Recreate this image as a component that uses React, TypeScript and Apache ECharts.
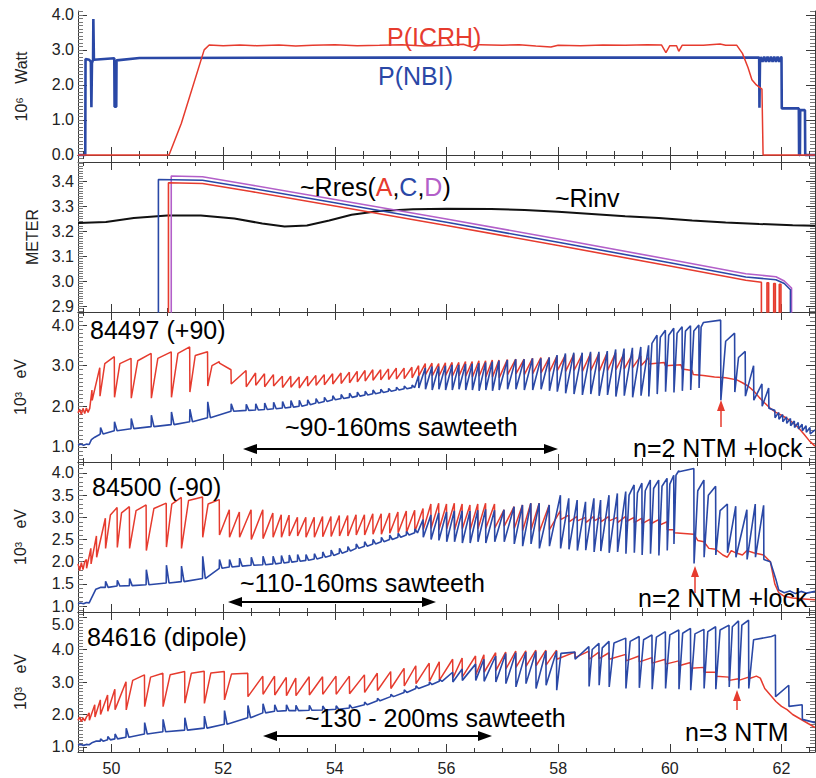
import React, { useEffect, useRef } from 'react';
import * as echarts from 'echarts';

type P = [number, number];
type T3 = [number, number, number];

// ---------------- tick labels ----------------
const xTickLabels = [50, 52, 54, 56, 58, 60, 62];
const p1TickLabels = [0, 1, 2, 3, 4];
const p2TickLabels = [2.9, 3.0, 3.1, 3.2, 3.3, 3.4];
const p3TickLabels = [1, 2, 3, 4];
const p4TickLabels = [1, 1.5, 2, 2.5, 3, 3.5, 4];
const p5TickLabels = [1, 2, 3, 4];
const p5TopLabel = [5];

// ---------------- panel 1 : powers ----------------
const pNbi: P[] = [[49.4,0],[49.53,0],[49.535,2.74],[49.60,2.72],[49.63,2.66],[49.64,1.36],[49.65,2.62],[49.67,2.72],[49.675,3.88],[49.685,2.72],[50.05,2.76],[50.055,1.38],[50.085,1.38],[50.09,2.70],[50.5,2.77],[55.0,2.78],[61.55,2.78],[61.60,2.78],[61.605,1.35],[61.615,2.68],[61.63,2.80],[61.66,2.66],[61.69,2.81],[61.72,2.66],[61.75,2.81],[61.78,2.66],[61.81,2.81],[61.84,2.66],[61.87,2.81],[61.90,2.66],[61.93,2.81],[61.96,2.66],[61.99,2.80],[62.0,2.78],[62.005,1.33],[62.31,1.33],[62.315,0],[62.33,0],[62.335,1.28],[62.42,1.28],[62.425,0],[62.6,0]];
const pIcrh: P[] = [[49.4,0],[51.03,0],[51.25,0.9],[51.66,3.0],[51.75,3.14],[52.0,3.12],[52.3,3.14],[52.6,3.12],[53.0,3.14],[53.3,3.11],[53.6,3.13],[54.0,3.15],[54.4,3.12],[54.8,3.13],[55.2,3.15],[55.6,3.11],[56.0,3.13],[56.3,3.16],[56.45,3.08],[56.6,3.15],[57.0,3.13],[57.3,3.15],[57.6,3.11],[57.87,3.08],[58.0,3.13],[58.4,3.12],[58.8,3.14],[59.2,3.13],[59.6,3.15],[59.85,3.14],[59.93,2.92],[60.0,3.12],[60.12,3.12],[60.16,2.96],[60.22,3.13],[60.6,3.13],[60.9,3.17],[61.0,3.13],[61.2,3.13],[61.3,2.9],[61.4,2.5],[61.47,2.15],[61.55,2.0],[61.65,1.88],[61.67,0],[62.6,0]];

// ---------------- panel 2 : radii ----------------
const rresA: P[] = [[51.02,2.85],[51.02,3.393],[51.63,3.390],[52.5,3.358],[54.0,3.300],[56.0,3.222],[58.0,3.142],[60.0,3.060],[61.36,3.003],[61.64,2.995],[61.64,2.85],[61.74,2.85],[61.74,2.993],[61.77,2.993],[61.77,2.85],[61.86,2.85],[61.86,2.99],[61.89,2.99],[61.89,2.85],[61.96,2.85],[61.96,2.987],[61.99,2.987],[61.99,2.85]];
const rresC: P[] = [[50.84,2.85],[50.84,3.406],[51.63,3.403],[52.5,3.371],[54.0,3.313],[56.0,3.235],[58.0,3.155],[60.0,3.073],[61.36,3.016],[61.9,3.005],[62.05,2.99],[62.16,2.965],[62.16,2.85]];
const rresD: P[] = [[51.07,2.85],[51.07,3.420],[51.63,3.417],[52.5,3.384],[54.0,3.326],[56.0,3.248],[58.0,3.168],[60.0,3.086],[61.36,3.029],[61.9,3.017],[62.05,3.0],[62.18,2.972],[62.18,2.85]];
const rinv: P[] = [[49.4,3.232],[49.9,3.236],[50.4,3.252],[51.0,3.262],[51.6,3.262],[52.2,3.250],[52.7,3.230],[53.1,3.218],[53.5,3.222],[53.9,3.242],[54.3,3.265],[54.8,3.280],[55.4,3.287],[56.0,3.289],[56.8,3.288],[57.4,3.284],[58.0,3.277],[58.6,3.268],[59.2,3.259],[59.8,3.252],[60.4,3.242],[61.0,3.234],[61.6,3.228],[62.2,3.223],[62.6,3.221]];

// ---------------- panel 3 : 84497 ----------------
// teeth: [time, value before crash, value after crash]; knees: bend points of the ramps
const p3RedPre: P[] = [[49.40,1.84],[49.43,1.93],[49.46,1.80],[49.49,1.95],[49.52,1.82],[49.55,1.96],[49.58,1.85],[49.61,1.95]];
const p3RedTeeth: T3[] = [[49.65,2.40,2.15],[49.79,2.95,2.25],[50.05,3.22,2.22],[50.35,3.18,2.20],[50.71,3.30,2.20],[51.07,3.34,2.22],[51.40,3.46,2.35],[51.72,3.34,2.50],[51.93,3.10,3.06],[52.14,2.90,2.55],[52.41,2.88,2.48],[52.58,2.82,2.52],[52.74,2.80,2.48],[52.90,2.78,2.50],[53.06,2.74,2.46],[53.21,2.74,2.47],[53.36,2.72,2.45],[53.51,2.74,2.50],[53.66,2.76,2.52],[53.81,2.78,2.53],[53.96,2.80,2.55],[54.11,2.82,2.56],[54.26,2.84,2.58],[54.40,2.86,2.60],[54.54,2.88,2.62],[54.68,2.90,2.64],[54.82,2.90,2.65],[54.96,2.92,2.66],[55.10,2.94,2.67],[55.24,2.94,2.68],[55.38,2.96,2.70],[55.50,3.00,2.75],[55.62,3.05,2.78],[55.74,3.06,2.75],[55.86,3.05,2.74],[55.98,3.07,2.76],[56.10,3.08,2.74],[56.22,3.08,2.75],[56.34,3.10,2.74],[56.46,3.10,2.72],[56.58,3.12,2.74],[56.70,3.12,2.72],[56.82,3.14,2.72],[56.94,3.14,2.70],[57.09,3.15,2.78],[57.24,3.16,2.80],[57.39,3.16,2.78],[57.54,3.18,2.80],[57.69,3.20,2.82],[57.84,3.20,2.85],[57.98,3.24,2.88],[58.13,3.26,2.86],[58.28,3.28,2.88],[58.43,3.28,2.86],[58.58,3.30,2.88],[58.73,3.30,2.86],[58.88,3.32,2.88],[59.03,3.32,2.90],[59.18,3.30,2.92],[59.33,3.28,2.95],[59.48,3.24,3.00],[59.62,3.20,3.04]];
const p3RedKnees: P[] = [[49.88,3.05],[50.15,3.05],[50.47,3.12],[50.83,3.18],[51.19,3.30],[51.50,3.25],[51.80,3.00]];
const p3RedPost: P[] = [[59.9,3.08],[59.92,3.0],[60.2,3.02],[60.22,2.92],[60.4,2.88],[60.42,2.78],[60.6,2.76],[60.8,2.72],[61.0,2.70],[61.2,2.65],[61.3,2.58],[61.4,2.50],[61.5,2.38],[61.6,2.22],[61.7,2.08],[61.8,1.95],[61.9,1.85],[62.0,1.78],[62.1,1.70],[62.2,1.60],[62.3,1.48],[62.4,1.32],[62.5,1.15],[62.6,1.02]];
const p3BluePre: P[] = [[49.40,1.05],[49.45,1.07],[49.50,1.04],[49.55,1.07],[49.60,1.06],[49.64,1.18],[49.70,1.24],[49.78,1.30]];
const p3BlueTeeth: T3[] = [[49.80,1.32,1.48],[50.05,1.40,1.62],[50.35,1.45,1.70],[50.71,1.50,1.78],[51.07,1.55,1.86],[51.40,1.62,1.93],[51.72,1.72,2.11],[52.14,1.88,2.06],[52.41,1.90,2.05],[52.58,1.91,2.06],[52.74,1.92,2.08],[52.90,1.94,2.10],[53.06,1.96,2.12],[53.21,1.98,2.14],[53.36,2.00,2.15],[53.51,2.04,2.16],[53.66,2.08,2.19],[53.81,2.12,2.22],[53.96,2.16,2.26],[54.11,2.19,2.29],[54.26,2.22,2.32],[54.40,2.25,2.35],[54.54,2.28,2.37],[54.68,2.31,2.40],[54.82,2.34,2.42],[54.96,2.37,2.44],[55.10,2.40,2.47],[55.24,2.43,2.50],[55.38,2.46,2.52],[55.50,2.75,2.45],[55.62,2.95,2.42],[55.74,2.98,2.40],[55.86,2.98,2.42],[55.98,3.00,2.40],[56.10,3.02,2.40],[56.22,3.02,2.42],[56.34,3.04,2.40],[56.46,3.05,2.40],[56.58,3.06,2.38],[56.70,3.08,2.40],[56.82,3.10,2.38],[56.94,3.12,2.40],[57.09,3.14,2.42],[57.24,3.16,2.42],[57.39,3.16,2.40],[57.54,3.18,2.40],[57.69,3.18,2.42],[57.84,3.20,2.38],[57.98,3.26,2.36],[58.13,3.30,2.32],[58.28,3.32,2.30],[58.43,3.32,2.28],[58.58,3.34,2.30],[58.73,3.34,2.26],[58.88,3.36,2.28],[59.03,3.40,2.24],[59.18,3.42,2.26],[59.33,3.44,2.22],[59.48,3.46,2.26],[59.62,3.50,2.24],[59.77,3.75,2.30],[59.92,3.87,2.36],[60.07,3.92,2.34],[60.22,3.96,2.38],[60.37,3.98,2.40],[60.52,4.00,2.45],[60.60,4.06,4.05],[60.91,4.12,2.15],[61.16,3.80,2.35],[61.35,3.35,2.25],[61.50,3.00,2.15],[61.65,2.55,2.00],[61.77,2.45,1.95],[61.88,1.90,1.72],[61.95,1.85,1.68],[62.02,1.80,1.62],[62.09,1.74,1.58],[62.16,1.70,1.52],[62.23,1.64,1.48],[62.30,1.60,1.44],[62.37,1.56,1.40],[62.44,1.52,1.36],[62.51,1.48,1.32]];
const p3BlueKnees: P[] = [[59.68,3.55],[59.83,3.70],[59.98,3.75],[60.13,3.80],[60.28,3.85],[60.43,3.85],[60.56,3.95],[61.00,3.60],[61.23,3.20]];
const p3BluePost: P[] = [[62.6,1.42]];

// ---------------- panel 4 : 84500 ----------------
const p4RedPre: P[] = [[49.40,1.95],[49.43,1.80],[49.46,1.98],[49.49,1.82],[49.52,2.0]];
const p4RedTeeth: T3[] = [[49.55,2.05,1.85],[49.63,2.30,1.95],[49.73,2.58,2.10],[49.89,2.98,2.30],[50.10,3.22,2.32],[50.32,3.24,2.30],[50.62,3.28,2.25],[50.98,3.32,2.33],[51.25,3.45,2.30],[51.63,3.46,2.55],[51.93,3.40,2.60],[52.11,3.17,2.55],[52.29,3.12,2.55],[52.50,3.17,2.50],[52.71,3.17,2.52],[52.89,3.10,2.55],[53.04,3.06,2.55],[53.18,3.05,2.58],[53.33,3.00,2.58],[53.48,3.00,2.55],[53.63,3.00,2.55],[53.78,3.02,2.56],[53.93,3.02,2.57],[54.08,3.04,2.58],[54.23,3.04,2.58],[54.38,3.06,2.60],[54.53,3.06,2.60],[54.68,3.08,2.62],[54.83,3.08,2.62],[54.98,3.10,2.64],[55.13,3.12,2.65],[55.28,3.14,2.66],[55.43,3.16,2.68],[55.58,3.20,2.72],[55.72,3.30,2.75],[55.86,3.32,2.72],[56.00,3.30,2.74],[56.14,3.32,2.72],[56.28,3.30,2.74],[56.42,3.28,2.72],[56.56,3.30,2.74],[56.70,3.32,2.75],[56.86,3.30,2.76],[57.03,3.17,2.80],[57.21,3.24,2.75],[57.36,3.28,2.70],[57.51,3.32,2.72],[57.66,3.32,2.68],[57.84,3.28,2.72],[58.04,3.15,2.95],[58.19,3.05,2.90],[58.34,3.02,2.92],[58.49,3.00,2.88],[58.64,3.02,2.92],[58.76,3.00,2.90],[58.91,3.02,2.92],[59.06,3.00,2.88],[59.21,3.02,2.90],[59.36,3.00,2.88],[59.50,2.98,2.86],[59.65,2.96,2.85],[59.80,2.95,2.82],[59.95,2.90,2.72],[60.07,2.72,2.65]];
const p4RedKnees: P[] = [[49.98,3.05],[50.18,3.10],[50.44,3.15],[50.76,3.20],[51.08,3.30],[51.38,3.38],[51.73,3.30]];
const p4RedPost: P[] = [[60.43,2.62],[60.50,2.48],[60.61,2.45],[60.7,2.30],[60.82,2.28],[60.95,2.15],[61.03,2.10],[61.10,2.25],[61.18,2.20],[61.3,2.15],[61.38,2.25],[61.5,2.20],[61.68,2.15],[61.80,2.0],[61.88,1.5],[61.95,1.30],[62.05,1.22],[62.2,1.18],[62.4,1.16],[62.6,1.14]];
const p4BluePre: P[] = [[49.40,1.05],[49.45,1.07],[49.50,1.05],[49.55,1.08],[49.60,1.07],[49.65,1.20],[49.72,1.38],[49.80,1.42]];
const p4BlueTeeth: T3[] = [[49.89,1.42,1.56],[50.10,1.45,1.58],[50.32,1.46,1.62],[50.62,1.48,1.82],[50.98,1.52,1.92],[51.25,1.55,1.90],[51.63,1.62,2.12],[51.93,1.85,2.05],[52.11,1.88,2.05],[52.29,1.90,2.08],[52.50,1.92,2.10],[52.71,1.93,2.12],[52.89,1.95,2.12],[53.04,1.97,2.14],[53.18,1.99,2.15],[53.33,2.01,2.16],[53.48,2.03,2.16],[53.63,2.06,2.18],[53.78,2.10,2.22],[53.93,2.14,2.26],[54.08,2.19,2.30],[54.23,2.24,2.34],[54.38,2.30,2.40],[54.53,2.35,2.45],[54.68,2.40,2.50],[54.83,2.45,2.55],[54.98,2.50,2.60],[55.13,2.55,2.64],[55.28,2.60,2.68],[55.43,2.65,2.74],[55.58,2.95,2.55],[55.72,3.05,2.50],[55.86,3.10,2.48],[56.00,3.12,2.45],[56.14,3.15,2.45],[56.28,3.15,2.42],[56.42,3.14,2.42],[56.56,3.16,2.45],[56.70,3.18,2.42],[56.86,3.16,2.45],[57.03,3.17,2.45],[57.21,3.24,2.40],[57.36,3.28,2.35],[57.51,3.32,2.40],[57.66,3.32,2.30],[57.84,3.28,2.35],[58.04,3.50,2.30],[58.19,3.43,2.28],[58.34,3.39,2.25],[58.49,3.35,2.26],[58.64,3.43,2.22],[58.76,3.39,2.24],[58.91,3.50,2.20],[59.06,3.54,2.22],[59.21,3.58,2.18],[59.36,3.73,2.20],[59.50,3.77,2.15],[59.65,3.84,2.18],[59.80,3.84,2.14],[59.95,3.88,2.25],[60.07,3.95,2.40],[60.16,4.05,4.03],[60.43,4.10,1.96],[60.61,3.84,2.10],[60.82,3.70,2.15],[61.03,3.30,2.20],[61.18,3.25,2.10],[61.38,3.17,2.05],[61.53,3.30,2.10],[61.68,3.27,2.05]];
const p4BlueKnees: P[] = [[59.27,3.50],[59.42,3.55],[59.56,3.60],[59.71,3.65],[59.86,3.70],[60.00,3.75],[60.11,3.95],[60.50,3.60],[60.69,3.50],[60.90,3.15]];
const p4BluePost: P[] = [[61.80,2.0],[61.90,1.6],[61.95,1.36],[62.05,1.30],[62.15,1.34],[62.25,1.28],[62.35,1.33],[62.45,1.29],[62.6,1.33]];

// ---------------- panel 5 : 84616 ----------------
const p5RedPre: P[] = [[49.40,1.82],[49.43,1.92],[49.46,1.78],[49.49,1.90],[49.52,1.80],[49.55,1.92]];
const p5RedTeeth: T3[] = [[49.60,2.05,1.82],[49.70,2.30,1.92],[49.80,2.45,2.00],[49.93,2.60,2.10],[50.06,2.78,2.15],[50.26,3.01,2.14],[50.59,3.22,2.24],[50.92,3.27,2.24],[51.31,3.32,2.35],[51.66,3.33,2.34],[52.02,3.32,2.45],[52.44,3.27,2.55],[52.71,3.18,2.62],[52.92,3.18,2.60],[53.13,3.14,2.58],[53.30,3.12,2.58],[53.54,3.16,2.60],[53.78,3.16,2.62],[54.02,3.18,2.62],[54.26,3.18,2.64],[54.53,3.22,2.68],[54.76,3.27,2.74],[55.00,3.32,2.80],[55.24,3.42,2.88],[55.45,3.50,2.95],[55.69,3.58,3.02],[55.87,3.62,3.06],[56.11,3.70,3.12],[56.28,3.74,3.16],[56.52,3.80,3.22],[56.67,3.84,3.30],[56.88,3.90,3.35],[57.06,3.92,3.40],[57.24,3.95,3.45],[57.42,3.96,3.48],[57.60,3.98,3.50],[57.78,3.98,3.52],[57.97,3.98,3.70],[58.30,3.92,3.75],[58.55,3.95,3.70],[58.73,3.92,3.72],[58.91,3.90,3.70],[59.21,3.85,3.65],[59.45,3.80,3.62],[59.68,3.75,3.58],[59.92,3.70,3.55],[60.16,3.65,3.50],[60.37,3.60,3.42],[60.61,3.45,3.30],[60.82,3.30,3.18],[61.06,3.15,3.05],[61.23,3.10,3.05],[61.41,3.15,3.10]];
const p5RedKnees: P[] = [[50.38,3.05],[50.70,3.15],[51.05,3.22],[51.43,3.27],[51.78,3.28],[52.15,3.25]];
const p5RedPost: P[] = [[61.55,3.18],[61.62,3.12],[61.70,2.80],[61.80,2.60],[61.90,2.40],[62.00,2.25],[62.10,2.15],[62.20,2.00],[62.30,1.90],[62.40,1.80],[62.50,1.70],[62.60,1.60]];
const p5BluePre: P[] = [[49.40,1.06],[49.45,1.08],[49.50,1.05],[49.55,1.08],[49.60,1.07],[49.66,1.14],[49.72,1.18]];
const p5BlueTeeth: T3[] = [[49.80,1.18,1.25],[49.93,1.22,1.32],[50.06,1.25,1.40],[50.26,1.30,1.58],[50.59,1.40,1.75],[50.92,1.47,1.85],[51.31,1.52,1.90],[51.66,1.58,1.95],[52.02,1.70,2.12],[52.44,1.90,2.28],[52.71,2.05,2.33],[52.92,2.10,2.30],[53.13,2.12,2.30],[53.30,2.12,2.28],[53.54,2.13,2.28],[53.78,2.14,2.26],[54.02,2.16,2.27],[54.26,2.20,2.30],[54.53,2.30,2.38],[54.76,2.42,2.50],[55.00,2.55,2.62],[55.24,2.68,2.76],[55.45,2.80,2.88],[55.69,2.92,3.00],[55.87,3.02,3.08],[56.11,3.30,3.00],[56.28,3.40,3.05],[56.52,3.55,3.05],[56.67,3.70,3.02],[56.88,3.80,3.00],[57.06,3.88,2.95],[57.24,3.90,2.85],[57.42,3.92,2.95],[57.60,3.94,2.80],[57.78,3.95,2.90],[57.97,3.95,2.75],[58.30,3.92,3.70],[58.55,4.09,2.86],[58.73,4.19,2.90],[58.91,4.25,2.85],[59.21,4.35,2.80],[59.45,4.40,2.82],[59.68,4.45,2.78],[59.92,4.55,2.80],[60.16,4.60,2.78],[60.37,4.65,2.75],[60.61,4.62,2.80],[60.82,4.70,2.78],[61.06,4.75,2.85],[61.23,4.88,2.80],[61.41,4.90,2.80],[61.82,4.40,4.38],[61.89,4.45,2.55],[62.13,2.90,2.25],[62.37,2.30,1.85]];
const p5BlueKnees: P[] = [[58.05,3.88],[58.61,4.00],[58.79,4.05],[59.00,4.20],[59.29,4.25],[59.53,4.30],[59.76,4.38],[60.00,4.45],[60.23,4.50],[60.45,4.48],[60.68,4.55],[60.90,4.60],[61.12,4.70],[61.29,4.75],[61.50,4.30]];
const p5BluePost: P[] = [[62.6,1.75]];

// ---------------- styling ----------------
const FONT = '"Liberation Sans", Arial, Helvetica, sans-serif';
const RED = '#e63b2e';
const BLUE = '#2a48a6';
const PURPLE = '#b35fc9';
const AXIS = '#3a3a3a';
const X_MIN = 49.4;
const X_MAX = 62.6;

// crash drawn as a near-vertical step; an upward spike relaxes back to its base level
function sawLine(pre: P[], teeth: T3[], post: P[], knees: P[] = []): P[] {
  const pts: P[] = pre.slice();
  teeth.forEach(([t, b, a]) => {
    pts.push([t, b]);
    pts.push([t + 0.004, a]);
    if (a > b + 0.05) pts.push([t + 0.05, b]);
  });
  return pts.concat(post, knees).sort((p, q) => p[0] - q[0]);
}

function tickRange(min: number, max: number, step: number): number[] {
  const out: number[] = [];
  const start = Math.ceil(min / step - 1e-9);
  const end = Math.floor(max / step + 1e-9);
  for (let i = start; i <= end; i++) out.push(+(i * step).toFixed(4));
  return out;
}

const NONE: number[] = [];
const PANELS = [
  { top: 11, bottom: 162, min: -0.2, max: 4.11, labels: p1TickLabels, high: NONE, minor: 0.1, name: '10⁶   Watt', gap: 49 },
  { top: 162, bottom: 312, min: 2.876, max: 3.476, labels: p2TickLabels, high: NONE, minor: 0.01, name: 'METER', gap: 34 },
  { top: 312, bottom: 462, min: 0.63, max: 4.32, labels: p3TickLabels, high: NONE, minor: 0.1, name: '10³   eV', gap: 50 },
  { top: 462, bottom: 612, min: 0.865, max: 4.248, labels: p4TickLabels, high: NONE, minor: 0.1, name: '10³   eV', gap: 50 },
  { top: 612, bottom: 752, min: 0.846, max: 5.154, labels: p5TickLabels, high: p5TopLabel, minor: 0.1, name: '10³   eV', gap: 50 },
];

function buildOption(): any {
  const grid: any[] = [];
  const xAxis: any[] = [];
  const yAxis: any[] = [];
  const xMinor = tickRange(X_MIN, X_MAX, 0.5);
  const lineStyle = { color: AXIS, width: 1 };
  const labelStyle = { fontSize: 16, fontFamily: FONT, color: '#222', margin: 4, lineHeight: 14 };
  PANELS.forEach((p, g) => {
    grid.push({ left: 78, right: 1, top: p.top, height: p.bottom - p.top, containLabel: false, outerBoundsMode: 'none' });
    const last = g === PANELS.length - 1;
    const xBase = { gridIndex: g, type: 'value', min: X_MIN, max: X_MAX, splitLine: { show: false } };
    xAxis.push({ ...xBase, position: 'bottom', axisLine: { show: true, lineStyle },
      axisTick: { show: true, inside: true, length: 8, customValues: xTickLabels, lineStyle },
      axisLabel: last ? { show: true, customValues: xTickLabels, fontSize: 16, fontFamily: FONT, color: '#222', margin: 8 } : { show: false } });
    xAxis.push({ ...xBase, position: 'bottom', axisLine: { show: false },
      axisTick: { show: true, inside: true, length: 4, customValues: xMinor, lineStyle }, axisLabel: { show: false } });
    xAxis.push({ ...xBase, position: 'top', axisLine: { show: true, lineStyle },
      axisTick: { show: true, inside: true, length: 8, customValues: xTickLabels, lineStyle }, axisLabel: { show: false } });
    xAxis.push({ ...xBase, position: 'top', axisLine: { show: false },
      axisTick: { show: true, inside: true, length: 4, customValues: xMinor, lineStyle }, axisLabel: { show: false } });

    const yMinor = tickRange(p.min, p.max, p.minor);
    const yBase = { gridIndex: g, type: 'value', min: p.min, max: p.max, splitLine: { show: false } };
    const majors = p.labels.concat(p.high);
    yAxis.push({ ...yBase, position: 'left', axisLine: { show: true, lineStyle },
      axisTick: { show: true, inside: true, length: 9, customValues: majors, lineStyle },
      axisLabel: { show: true, customValues: p.labels, formatter: (v: number) => v.toFixed(1), ...labelStyle },
      name: p.name, nameLocation: 'middle', nameRotate: 90, nameGap: p.gap,
      nameTextStyle: { fontSize: 16, fontFamily: FONT, color: '#222' } });
    yAxis.push({ ...yBase, position: 'left', axisLine: { show: false },
      axisTick: { show: true, inside: true, length: 5, customValues: yMinor, lineStyle: { color: '#777', width: 1 } },
      axisLabel: p.high.length ? { show: true, customValues: p.high, formatter: (v: number) => v.toFixed(1), verticalAlign: 'top', ...labelStyle } : { show: false } });
    yAxis.push({ ...yBase, position: 'right', axisLine: { show: true, lineStyle },
      axisTick: { show: true, inside: true, length: 5, customValues: yMinor, lineStyle: { color: '#777', width: 1 } }, axisLabel: { show: false } });
    yAxis.push({ ...yBase, position: 'right', axisLine: { show: false },
      axisTick: { show: true, inside: true, length: 9, customValues: majors, lineStyle }, axisLabel: { show: false } });
  });

  const line = (g: number, data: P[], color: string, width: number, z = 2) => ({
    type: 'line', xAxisIndex: g * 4, yAxisIndex: g * 4, data, showSymbol: false, symbol: 'none',
    lineStyle: { color, width }, itemStyle: { color }, silent: true, z, clip: true,
  });

  const series = [
    line(0, pIcrh, RED, 1.5, 3),
    line(0, pNbi, BLUE, 2.6, 2),
    line(1, rinv, '#111', 2, 2),
    line(1, rresD, PURPLE, 1.6, 3),
    line(1, rresC, BLUE, 1.6, 4),
    line(1, rresA, RED, 1.6, 5),
    line(2, sawLine(p3RedPre, p3RedTeeth, p3RedPost, p3RedKnees), RED, 1.5, 2),
    line(2, sawLine(p3BluePre, p3BlueTeeth, p3BluePost, p3BlueKnees), BLUE, 1.6, 3),
    line(3, sawLine(p4RedPre, p4RedTeeth, p4RedPost, p4RedKnees), RED, 1.5, 2),
    line(3, sawLine(p4BluePre, p4BlueTeeth, p4BluePost, p4BlueKnees), BLUE, 1.6, 3),
    line(4, sawLine(p5RedPre, p5RedTeeth, p5RedPost, p5RedKnees), RED, 1.5, 2),
    line(4, sawLine(p5BluePre, p5BlueTeeth, p5BluePost, p5BlueKnees), BLUE, 1.6, 3),
  ];

  const txt = (text: string, x: number, y: number, color = '#000', size = 25) => ({
    type: 'text', x, y, z: 100,
    style: { text, fill: color, fontSize: size, fontFamily: FONT, align: 'left', verticalAlign: 'middle' },
  });
  const dblArrow = (x1: number, x2: number, y: number) => [
    { type: 'line', z: 100, shape: { x1: x1 + 8, y1: y, x2: x2 - 8, y2: y }, style: { stroke: '#000', lineWidth: 2 } },
    { type: 'polygon', z: 100, shape: { points: [[x1, y], [x1 + 14, y - 5], [x1 + 14, y + 5]] }, style: { fill: '#000' } },
    { type: 'polygon', z: 100, shape: { points: [[x2, y], [x2 - 14, y - 5], [x2 - 14, y + 5]] }, style: { fill: '#000' } },
  ];
  const upArrow = (x: number, yTip: number, yBase: number) => [
    { type: 'line', z: 100, shape: { x1: x, y1: yBase, x2: x, y2: yTip + 8 }, style: { stroke: RED, lineWidth: 1.5 } },
    { type: 'polygon', z: 100, shape: { points: [[x, yTip], [x - 4, yTip + 11], [x + 4, yTip + 11]] }, style: { fill: RED } },
  ];
  const rs = (c: string) => ({ fill: c, color: c, fontSize: 25, fontFamily: FONT });

  const graphic = [
    txt('P(ICRH)', 387, 37, RED),
    txt('P(NBI)', 378, 76, BLUE),
    { type: 'text', x: 300, y: 187, z: 100,
      style: { text: '{k|~Rres(}{r|A}{k|,}{b|C}{k|,}{p|D}{k|)}', rich: { k: rs('#000'), r: rs(RED), b: rs(BLUE), p: rs(PURPLE) },
        fontSize: 25, fontFamily: FONT, align: 'left', verticalAlign: 'middle' } },
    txt('~Rinv', 555, 198),
    txt('84497 (+90)', 90, 330),
    txt('~90-160ms sawteeth', 285, 427),
    txt('n=2 NTM +lock', 633, 448),
    txt('84500 (-90)', 92, 487),
    txt('~110-160ms sawteeth', 240, 583),
    txt('n=2 NTM +lock', 638, 598),
    txt('84616 (dipole)', 87, 637),
    txt('~130 - 200ms sawteeth', 305, 718),
    txt('n=3 NTM', 685, 732),
    ...dblArrow(243, 558, 449),
    ...dblArrow(228, 436, 602),
    ...dblArrow(263, 492, 736),
    ...upArrow(721, 400, 427),
    ...upArrow(695, 566, 593),
    ...upArrow(737, 690, 710),
  ];

  return { animation: false, backgroundColor: '#fff', grid, xAxis, yAxis, series, graphic };
}

export default function App() {
  const ref = useRef<HTMLDivElement>(null);
  useEffect(() => {
    if (!ref.current) return;
    const chart = echarts.init(ref.current, null, { renderer: 'svg' });
    chart.setOption(buildOption());
    return () => chart.dispose();
  }, []);
  return <div ref={ref} style={{ position: 'absolute', left: 0, top: 0, width: 816, height: 778, background: '#fff' }} />;
}
